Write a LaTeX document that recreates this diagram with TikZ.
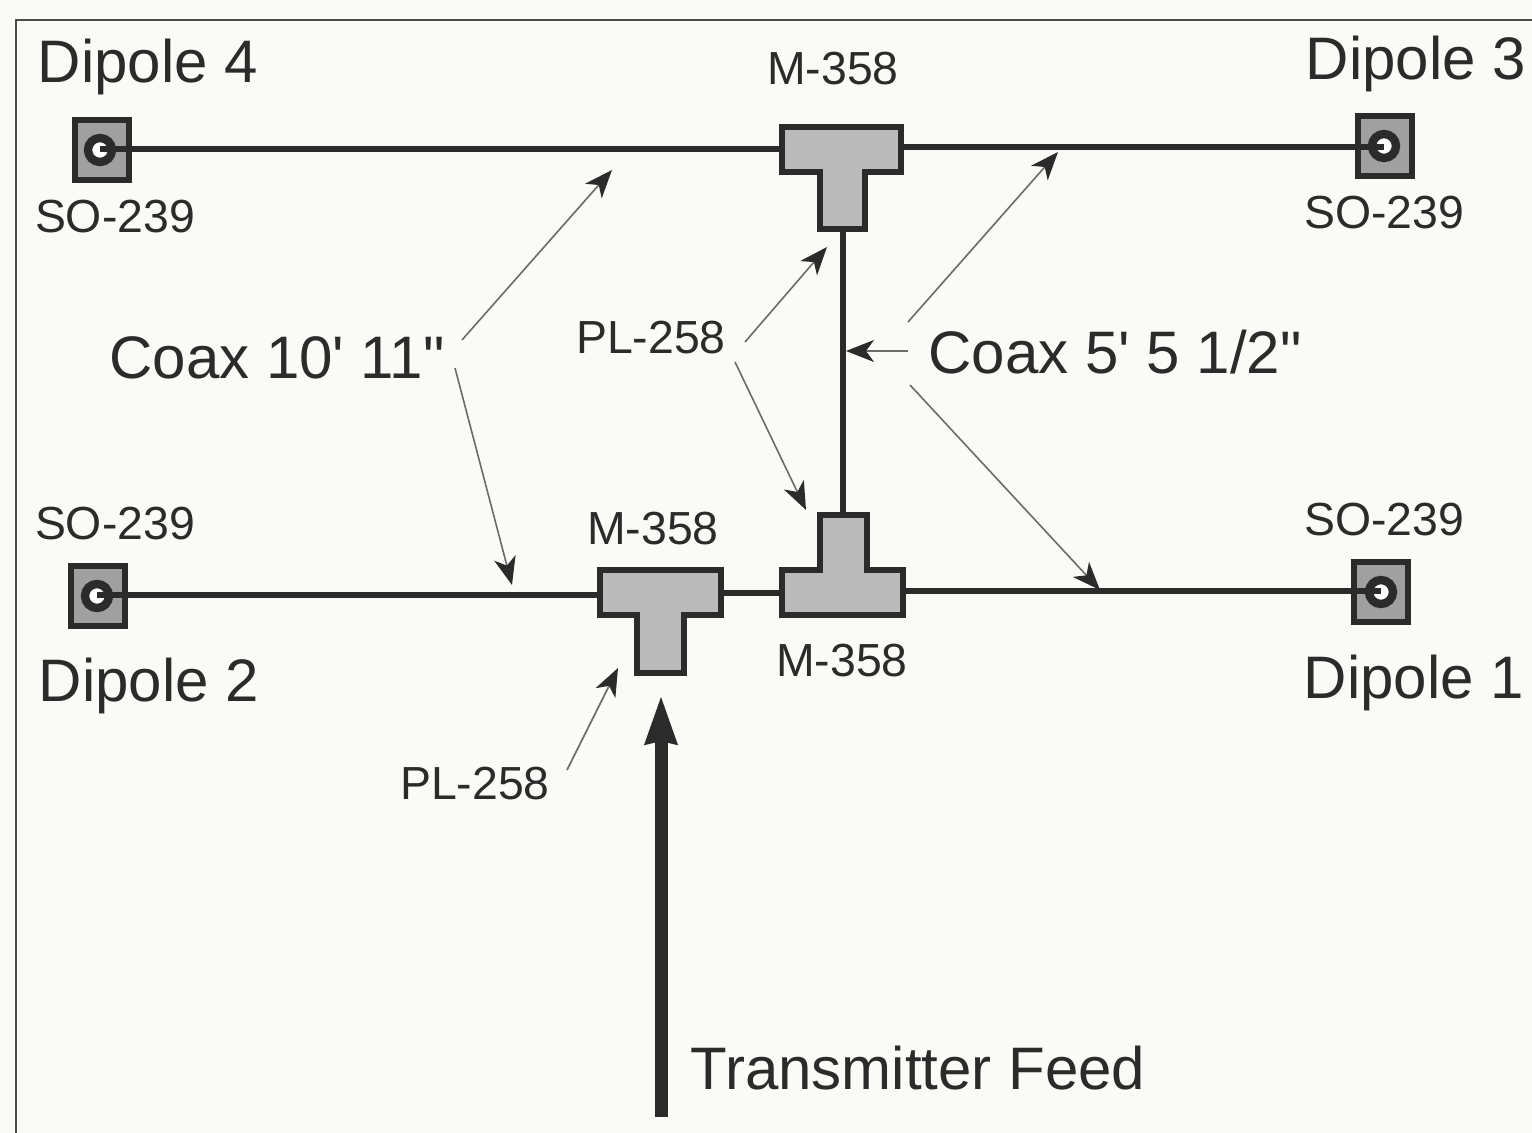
\documentclass[tikz,border=0pt]{standalone}
\usepackage{fontspec}
\setmainfont{Liberation Sans}
\newfontfamily\straightfont{Liberation Sans}
\usetikzlibrary{arrows.meta}
\definecolor{paper}{HTML}{FAFAF6}
\definecolor{ink}{HTML}{2B2B2B}
\definecolor{teefill}{HTML}{BBBBBB}
\definecolor{sockfill}{HTML}{A0A0A0}
\tikzset{
  x=0.5pt,y=-0.5pt,
  frameline/.style={draw=ink!85,line width=1.1pt},
  coax/.style={draw=ink,line width=3pt},
  tee/.style={draw=ink,fill=teefill,line width=3pt,line join=miter},
  sock/.style={draw=ink,fill=sockfill,line width=2.8pt},
  ring/.style={draw=ink,fill=white,line width=4.2pt},
  lead/.style={draw=ink!70,line width=0.8pt,-{Stealth[length=14pt,width=11pt,inset=4pt,color=ink]}},
  feed/.style={draw=ink,line width=6.5pt,-{Stealth[length=24pt,width=15pt,inset=1pt]}},
  big/.style={font=\straightfont\fontsize{30pt}{36pt}\selectfont,text=ink,inner sep=0pt},
  mid/.style={font=\fontsize{30pt}{34pt}\selectfont,text=ink,inner sep=0pt},
  small/.style={font=\fontsize{23.2pt}{27pt}\selectfont,text=ink,inner sep=0pt},
}
\begin{document}
\begin{tikzpicture}
\useasboundingbox (0,0) rectangle (1532,1133);
\fill[paper] (0,0) rectangle (1532,1133);
% frame
\coordinate (frameA) at (16,1133);
\coordinate (frameB) at (16,20);
\coordinate (frameC) at (1532,20);
\draw[frameline] (frameA) -- (frameB) -- (frameC);
% junction anchors
\coordinate (t1L) at (782,149);
\coordinate (t1R) at (901,147);
\coordinate (t1B) at (843,229);
\coordinate (t2L) at (600,595);
\coordinate (t2R) at (721,593);
\coordinate (t3L) at (782,593);
\coordinate (t3R) at (903,591);
\coordinate (t3T) at (843,515);
\coordinate (d4) at (100,149);
\coordinate (d3) at (1384,147);
\coordinate (d2) at (97,595);
\coordinate (d1) at (1381,591);
% sockets
\draw[sock] (75,120) rectangle (129,180);
\draw[sock] (1358,116) rectangle (1412,176);
\draw[sock] (71,566) rectangle (125,626);
\draw[sock] (1354,562) rectangle (1408,622);
\draw[ring] (100,150) circle[radius=6pt];
\draw[ring] (1384,146) circle[radius=6pt];
\draw[ring] (97,596) circle[radius=6pt];
\draw[ring] (1381,592) circle[radius=6pt];
% coax lines
\draw[coax] (d4) -- (t1L);
\draw[coax] (t1R) -- (d3);
\draw[coax] (d2) -- (t2L);
\draw[coax] (t2R) -- (t3L);
\draw[coax] (t3R) -- (d1);
\draw[coax] (t1B) -- (t3T);
% tees
\draw[tee] (782,127) -- (901,127) -- (901,172) -- (865,172) -- (865,229) -- (820,229) -- (820,172) -- (782,172) -- cycle;
\draw[tee] (600,570) -- (721,570) -- (721,615) -- (684,615) -- (684,673) -- (637,673) -- (637,615) -- (600,615) -- cycle;
\draw[tee] (820,515) -- (867,515) -- (867,570) -- (903,570) -- (903,615) -- (782,615) -- (782,570) -- (820,570) -- cycle;
% labels
\node[mid] (lD4) at (148,67) {Dipole 4};
\node[mid] (lD3) at (1416,64) {Dipole 3};
\node[mid] (lD2) at (149,686) {Dipole 2};
\node[mid] (lD1) at (1414,683) {Dipole 1};
\node[small] (s4) at (115,217) {SO-239};
\node[small] (s3) at (1384,213) {SO-239};
\node[small] (s2) at (115,524) {SO-239};
\node[small] (s1) at (1384,520) {SO-239};
\node[small] (m1) at (833,69) {M-358};
\node[small] (m2) at (653,529) {M-358};
\node[small] (m3) at (842,661) {M-358};
\node[small] (p1) at (651,338) {PL-258};
\node[small] (p2) at (475,784) {PL-258};
\node[big] (c1) at (277,358) {Coax 10' 11"};
\node[big] (c2) at (1115,352) {Coax 5' 5 1/2"};
\node[mid] (tf) at (918,1068) {Transmitter Feed};
% leader ends
\coordinate (c1a) at (462,340); \coordinate (c1ae) at (612,170);
\coordinate (c1b) at (455,368); \coordinate (c1be) at (512,585);
\coordinate (c2a) at (908,322); \coordinate (c2ae) at (1058,152);
\coordinate (c2b) at (910,385); \coordinate (c2be) at (1100,590);
\coordinate (c2c) at (908,351); \coordinate (c2ce) at (846,351);
\coordinate (p1a) at (745,342); \coordinate (p1ae) at (827,247);
\coordinate (p1b) at (735,362); \coordinate (p1be) at (806,510);
\coordinate (p2a) at (567,770); \coordinate (p2ae) at (618,668);
\coordinate (fa) at (661,1117); \coordinate (fb) at (661,695);
\draw[lead] (c1a) -- (c1ae);
\draw[lead] (c1b) -- (c1be);
\draw[lead] (c2a) -- (c2ae);
\draw[lead] (c2b) -- (c2be);
\draw[lead] (c2c) -- (c2ce);
\draw[lead] (p1a) -- (p1ae);
\draw[lead] (p1b) -- (p1be);
\draw[lead] (p2a) -- (p2ae);
\draw[feed] (fa) -- (fb);
\end{tikzpicture}
\end{document}
